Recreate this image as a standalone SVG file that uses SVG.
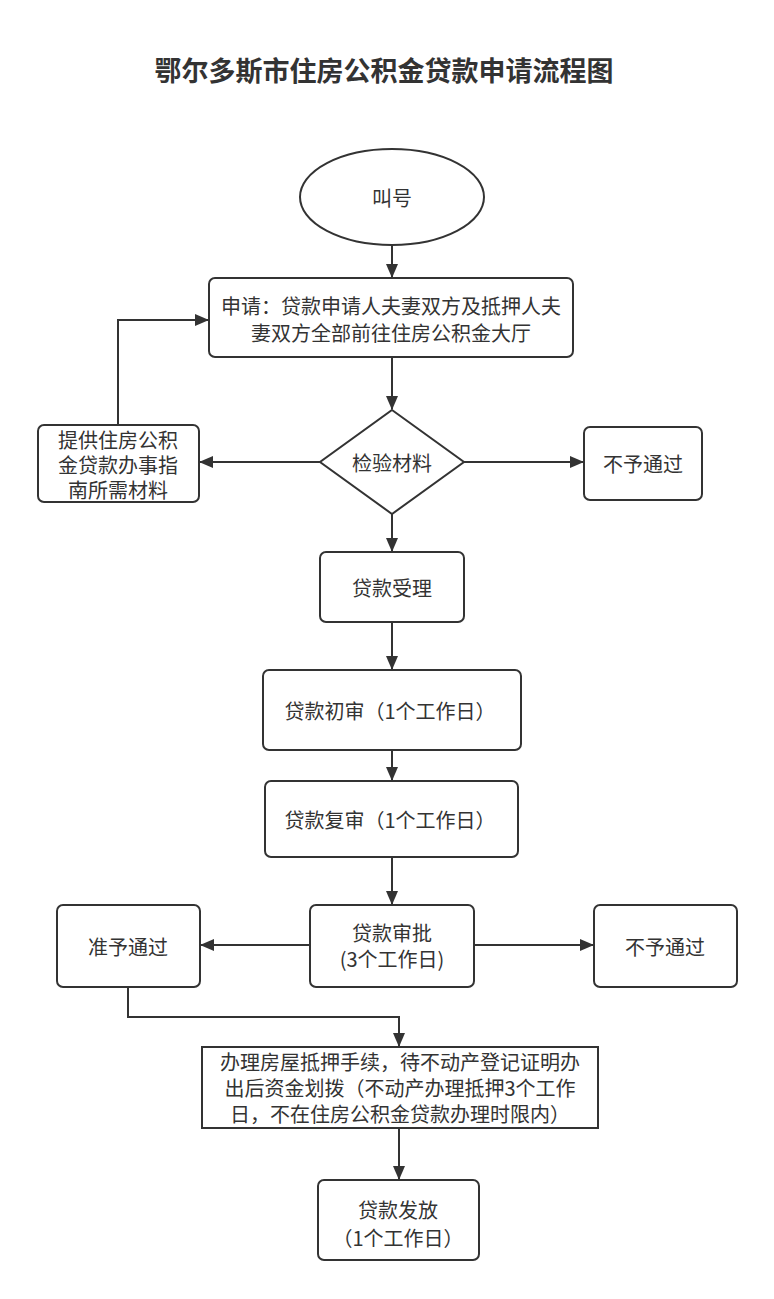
<svg xmlns="http://www.w3.org/2000/svg" width="774" height="1299" viewBox="0 0 774 1299">
<style>
.bg{fill:#ffffff}
.n{fill:#ffffff;stroke:#333333;stroke-width:2}
.t{font-family:"Noto Sans CJK SC","Microsoft YaHei",sans-serif;font-size:20px;fill:#333333;text-anchor:middle;dominant-baseline:central}
.title{font-family:"Noto Sans CJK SC",sans-serif;font-size:27px;font-weight:bold;fill:#333333;text-anchor:middle;dominant-baseline:central}
.c{fill:none;stroke:#333333;stroke-width:2;marker-end:url(#ah)}
</style>
<defs>
<marker id="ah" markerWidth="14" markerHeight="12" refX="13" refY="6" orient="auto" markerUnits="userSpaceOnUse" viewBox="0 0 14 12">
<path d="M0,0 L14,6 L0,12 Z" fill="#333333"/>
</marker>
</defs>
<rect class="bg" x="0" y="0" width="774" height="1299"/>
<text class="title" x="384" y="69">鄂尔多斯市住房公积金贷款申请流程图</text>

<g id="connectors">
<path class="c" d="M392,245 L392,277"/>
<path class="c" d="M392,357 L392,409"/>
<path class="c" d="M320,462 L200,462"/>
<path class="c" d="M118,425 L118,320 L208,320"/>
<path class="c" d="M464,462 L583,462"/>
<path class="c" d="M392,514 L392,551"/>
<path class="c" d="M392,622 L392,669"/>
<path class="c" d="M392,750 L392,780"/>
<path class="c" d="M392,857 L392,904"/>
<path class="c" d="M310,945 L201,945"/>
<path class="c" d="M474,945 L593,945"/>
<path class="c" d="M128,987 L128,1017 L399,1017 L399,1046"/>
<path class="c" d="M399,1128 L399,1179"/>
</g>

<g id="n-call">
<ellipse class="n" cx="392" cy="197" rx="92" ry="48"/>
<text class="t" x="392" y="197">叫号</text>
</g>
<g id="n-apply">
<rect class="n" x="209" y="278" width="364" height="79" rx="6"/>
<text class="t" x="391" y="305">申请：贷款申请人夫妻双方及抵押人夫</text>
<text class="t" x="391" y="332">妻双方全部前往住房公积金大厅</text>
</g>
<g id="n-check">
<polygon class="n" points="392,410 464,462 392,514 320,462"/>
<text class="t" x="392" y="462">检验材料</text>
</g>
<g id="n-provide">
<rect class="n" x="38" y="425" width="161" height="77" rx="6"/>
<text class="t" x="118" y="439">提供住房公积</text>
<text class="t" x="118" y="464">金贷款办事指</text>
<text class="t" x="118" y="489">南所需材料</text>
</g>
<g id="n-reject1">
<rect class="n" x="584" y="427" width="118" height="73" rx="6"/>
<text class="t" x="643" y="463">不予通过</text>
</g>
<g id="n-accept">
<rect class="n" x="320" y="552" width="144" height="70" rx="6"/>
<text class="t" x="392" y="587">贷款受理</text>
</g>
<g id="n-first">
<rect class="n" x="263" y="670" width="258" height="80" rx="6"/>
<text class="t" x="390" y="710">贷款初审（1个工作日）</text>
</g>
<g id="n-second">
<rect class="n" x="265" y="781" width="253" height="76" rx="6"/>
<text class="t" x="390" y="819">贷款复审（1个工作日）</text>
</g>
<g id="n-approve">
<rect class="n" x="310" y="905" width="164" height="82" rx="6"/>
<text class="t" x="392" y="932">贷款审批</text>
<text class="t" x="392" y="958">(3个工作日)</text>
</g>
<g id="n-grant">
<rect class="n" x="57" y="905" width="143" height="82" rx="6"/>
<text class="t" x="128" y="946">准予通过</text>
</g>
<g id="n-reject2">
<rect class="n" x="594" y="905" width="143" height="82" rx="6"/>
<text class="t" x="665" y="946">不予通过</text>
</g>
<g id="n-mortgage">
<rect class="n" x="202" y="1047" width="396" height="81"/>
<text class="t" x="400" y="1061">办理房屋抵押手续，待不动产登记证明办</text>
<text class="t" x="400" y="1087">出后资金划拨（不动产办理抵押3个工作</text>
<text class="t" x="400" y="1113">日，不在住房公积金贷款办理时限内）</text>
</g>
<g id="n-release">
<rect class="n" x="318" y="1180" width="161" height="80" rx="6"/>
<text class="t" x="398" y="1209">贷款发放</text>
<text class="t" x="398" y="1237">（1个工作日）</text>
</g>
</svg>
